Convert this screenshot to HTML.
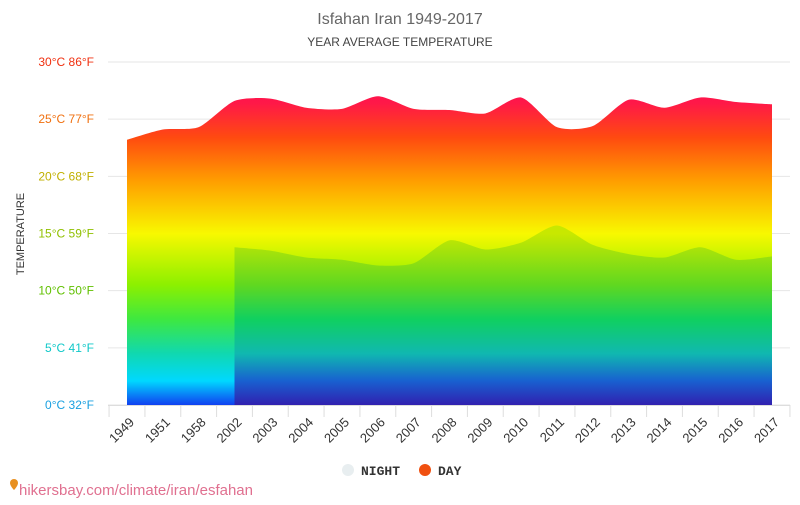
<!DOCTYPE html>
<html><head><meta charset="utf-8"><style>
body{margin:0;background:#fff;font-family:"Liberation Sans",sans-serif}
</style></head><body>
<svg id="c" width="800" height="500" xmlns="http://www.w3.org/2000/svg">
<defs>
<linearGradient id="gDay" gradientUnits="userSpaceOnUse" x1="0" y1="62" x2="0" y2="405">
<stop offset="0" stop-color="#ff0060"/><stop offset="0.12" stop-color="#ff1848"/><stop offset="0.22" stop-color="#ff4a10"/><stop offset="0.35" stop-color="#ffa000"/>
<stop offset="0.5" stop-color="#f8f800"/><stop offset="0.65" stop-color="#8cf000"/><stop offset="0.75" stop-color="#3ee840"/>
<stop offset="0.85" stop-color="#10d8b0"/><stop offset="0.93" stop-color="#00d8ff"/><stop offset="1" stop-color="#1040f0"/>
</linearGradient>
<linearGradient id="gNight" gradientUnits="userSpaceOnUse" x1="0" y1="62" x2="0" y2="405">
<stop offset="0.5" stop-color="#c8e800"/><stop offset="0.65" stop-color="#60d820"/><stop offset="0.75" stop-color="#10d060"/>
<stop offset="0.85" stop-color="#10b8b0"/><stop offset="0.93" stop-color="#1860d0"/><stop offset="1" stop-color="#3020b0"/>
</linearGradient>
</defs>
<text x="400" y="24" text-anchor="middle" font-size="16" fill="#666">Isfahan Iran 1949-2017</text>
<text x="400" y="46" text-anchor="middle" font-size="12" fill="#444">YEAR AVERAGE TEMPERATURE</text>
<text transform="translate(24,234) rotate(-90)" text-anchor="middle" font-size="11" fill="#333">TEMPERATURE</text>
<g id="grid"></g><g id="areas"></g><g id="xaxis"></g>
<g>
<g><circle cx="348" cy="470" r="6" fill="#e8eef0"/><text x="361" y="475" font-size="13" font-family="Liberation Mono,monospace" font-weight="bold" fill="#333">NIGHT</text></g>
<g><circle cx="425" cy="470" r="6" fill="#f05010"/><text x="438" y="475" font-size="13" font-family="Liberation Mono,monospace" font-weight="bold" fill="#333">DAY</text></g>
</g>
<g><path d="M10,483 a4,4 0 1,1 8,0 c0,3 -4,7 -4,7 c0,0 -4,-4 -4,-7z" fill="#e89020"/><text x="19" y="495" font-size="15" fill="#e07090">hikersbay.com/climate/iran/esfahan</text></g>
</svg>
<script>
const categories=["1949","1951","1958","2002","2003","2004","2005","2006","2007","2008","2009","2010","2011","2012","2013","2014","2015","2016","2017"];
const dayValues=[23.2,24.1,24.3,26.6,26.8,26.0,25.9,27.0,25.9,25.8,25.5,26.9,24.3,24.4,26.7,26.0,26.9,26.5,26.3];
const nightValues=[null,null,null,13.8,13.5,12.9,12.7,12.2,12.4,14.4,13.6,14.2,15.7,14.0,13.2,12.9,13.8,12.7,13.0];
const yTicks=[0,5,10,15,20,25,30];
const tickColors=["#1aa0e0","#10c8c8","#60c000","#90c000","#c0b000","#f07010","#f03010"];
const NS="http://www.w3.org/2000/svg";
const x0=127,x1=772,y0=405,y30=62;
const xs=i=>x0+i*(x1-x0)/(categories.length-1);
const ys=v=>y0-(v/30)*(y0-y30);
function mk(t,a,p){const e=document.createElementNS(NS,t);for(const k in a)e.setAttribute(k,a[k]);p.appendChild(e);return e;}
const grid=document.getElementById('grid');
yTicks.forEach((v,i)=>{
  const l=mk('line',{x1:108,x2:790,y1:ys(v),y2:ys(v),stroke:'#e6e6e6'},grid);
  
  
  const t=mk('text',{x:94,y:ys(v)+4,'text-anchor':'end','font-size':12,fill:tickColors[i]},grid);
  t.textContent=v+'°C '+Math.round(v*9/5+32)+'°F';
  
  
});
function smooth(pts){
  let d='M'+pts[0][0]+','+pts[0][1];
  for(let i=0;i<pts.length-1;i++){
    const p0=pts[Math.max(0,i-1)],p1=pts[i],p2=pts[i+1],p3=pts[Math.min(pts.length-1,i+2)];
    const t=0.12;
    d+=' C'+(p1[0]+(p2[0]-p0[0])*t)+','+(p1[1]+(p2[1]-p0[1])*t)+' '+(p2[0]-(p3[0]-p1[0])*t)+','+(p2[1]-(p3[1]-p1[1])*t)+' '+p2[0]+','+p2[1];
  }
  return d;
}
function area(vals,fill,name){
  const pts=[];vals.forEach((v,i)=>{if(v!==null)pts.push([xs(i),ys(v)]);});
  const d=smooth(pts)+' L'+pts[pts.length-1][0]+','+y0+' L'+pts[0][0]+','+y0+'Z';
  const p=mk('path',{d:d,fill:fill},document.getElementById('areas'));
  
  
}
area(dayValues,'url(#gDay)','day-area');
area(nightValues,'url(#gNight)','night-area');
const xa=document.getElementById('xaxis');
mk('line',{x1:108,x2:790,y1:y0+0.5,y2:y0+0.5,stroke:'#ddd'},xa);
const step=(x1-x0)/(categories.length-1);
categories.forEach((c,i)=>{
  const tx=xs(i)-step/2;
  mk('line',{x1:tx,x2:tx,y1:y0,y2:y0+12,stroke:'#ddd'},xa);
  const t=mk('text',{transform:'translate('+(xs(i)+8)+','+(y0+18)+') rotate(-45)','text-anchor':'end','font-size':13,fill:'#333'},xa);
  t.textContent=c;
  
  
});
mk('line',{x1:x1+step/2,x2:x1+step/2,y1:y0,y2:y0+12,stroke:'#ddd'},xa);
</script>
</body></html>
